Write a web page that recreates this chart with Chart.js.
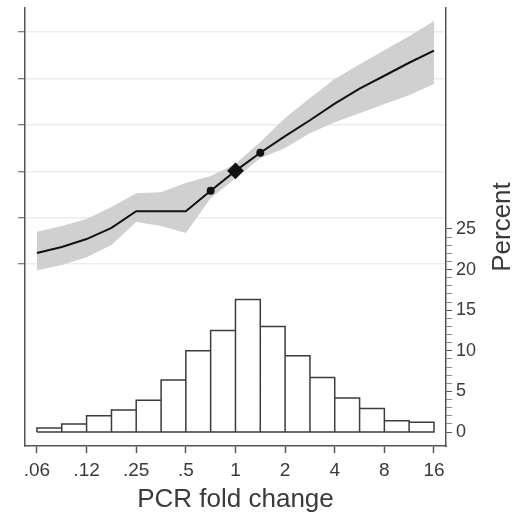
<!DOCTYPE html>
<html>
<head>
<meta charset="utf-8">
<script src="https://cdn.jsdelivr.net/npm/chart.js@4"></script>
<style>
  body { margin: 0; background: #fff; }
</style>
</head>
<body>
<canvas id="chart" width="518" height="516"></canvas>
<script>
// fold-change positions of the fitted curve
const foldPoints = [0.0625, 0.0884, 0.125, 0.177, 0.25, 0.354, 0.5, 0.707, 1, 1.414, 2, 2.83, 4, 5.66, 8, 11.3, 16];
const fitLine = [1.24, 1.37, 1.54, 1.78, 2.14, 2.14, 2.14, 2.58, 3.01, 3.40, 3.76, 4.10, 4.46, 4.78, 5.06, 5.34, 5.60];
const ciUpper = [1.70, 1.82, 1.97, 2.23, 2.53, 2.55, 2.75, 2.90, 3.16, 3.63, 4.15, 4.58, 4.99, 5.31, 5.61, 5.91, 6.24];
const ciLower = [0.87, 0.98, 1.15, 1.41, 1.91, 1.82, 1.67, 2.42, 2.85, 3.28, 3.50, 3.82, 4.06, 4.25, 4.45, 4.64, 4.88];
const markerFolds = [0.707, 1, 1.414];

// histogram
const binEdges = [0.0625, 0.0884, 0.125, 0.177, 0.25, 0.354, 0.5, 0.707, 1, 1.414, 2, 2.83, 4, 5.66, 8, 11.3, 16];
const percent = [0.5, 1.0, 2.0, 2.7, 3.9, 6.4, 10.0, 12.5, 16.3, 13.0, 9.4, 6.7, 4.2, 2.9, 1.4, 1.2];

// axes
const xTicks = [0.0625, 0.125, 0.25, 0.5, 1, 2, 4, 8, 16];
const xTickLabels = [".06", ".12", ".25", ".5", "1", "2", "4", "8", "16"];
const leftTicks = [1, 2, 3, 4, 5, 6];
const percentLabels = [0, 5, 10, 15, 20, 25];

const FONT = "'Liberation Sans', Arial, Helvetica, sans-serif";
const TEXT = "#3a3a3a";
const AXIS = "#555";

// histogram outline path built from edges + heights
const histPath = [{ x: binEdges[0], y: 0 }];
percent.forEach((p, i) => {
  histPath.push({ x: binEdges[i], y: p });
  histPath.push({ x: binEdges[i + 1], y: p });
  histPath.push({ x: binEdges[i + 1], y: 0 });
});
histPath.push({ x: binEdges[0], y: 0 });

const pts = arr => foldPoints.map((f, i) => ({ x: f, y: arr[i] }));

const percentTitle = {
  id: "percentTitle",
  afterDraw(chart) {
    const c = chart.ctx, a = chart.chartArea;
    c.save();
    c.translate(503, (a.top + a.bottom) / 2);
    c.rotate(-Math.PI / 2);
    c.font = "26px " + FONT;
    c.fillStyle = TEXT;
    c.textAlign = "center";
    c.textBaseline = "middle";
    c.fillText("Percent", 0, 0);
    c.restore();
  }
};

const ctx = document.getElementById("chart").getContext("2d");
const chart = new Chart(ctx, {
  type: "line",
  data: {
    datasets: [
      {
        label: "lower",
        data: pts(ciLower),
        yAxisID: "yL",
        borderWidth: 0,
        pointRadius: 0,
        fill: false,
        order: 2,
      },
      {
        label: "upper",
        data: pts(ciUpper),
        yAxisID: "yL",
        borderWidth: 0,
        pointRadius: 0,
        fill: "-1",
        backgroundColor: "#d0d0d0",
        order: 2,
      },
      {
        label: "fit",
        data: pts(fitLine),
        yAxisID: "yL",
        borderColor: "#111",
        borderWidth: 2,
        backgroundColor: "#111",
        pointBorderColor: "#111",
        pointRadius: c => {
          const f = foldPoints[c.dataIndex];
          if (f === 1) return 7;
          return markerFolds.includes(f) ? 3 : 0;
        },
        pointStyle: c => (foldPoints[c.dataIndex] === 1 ? "rectRot" : "circle"),
        fill: false,
        order: 0,
      },
      {
        label: "hist",
        data: histPath,
        yAxisID: "yR",
        borderColor: "#3c3c3c",
        borderWidth: 1.5,
        pointRadius: 0,
        fill: false,
        order: 3,
      },
    ],
  },
  options: {
    responsive: false,
    animation: false,
    events: [],
    layout: { padding: { top: 8, left: 0, right: 0, bottom: 0 } },
    plugins: { legend: { display: false }, tooltip: { enabled: false } },
    scales: {
      x: {
        type: "logarithmic",
        position: "bottom",
        min: 0.0529,
        max: 18.92,
        bounds: "data",
        afterBuildTicks: s => { s.ticks = xTicks.map(v => ({ value: v })); },
        afterFit: s => { s.height = 70; s.paddingLeft = 0; s.paddingRight = 0; },
        ticks: {
          autoSkip: false,
          maxRotation: 0,
          padding: 6,
          color: TEXT,
          font: { family: FONT, size: 19 },
          callback: (v, i) => xTickLabels[i],
        },
        grid: { drawOnChartArea: false, tickLength: 7, tickColor: AXIS, tickWidth: 1.5 },
        border: { display: true, color: AXIS, width: 1.5 },
        title: {
          display: true,
          text: "PCR fold change",
          color: TEXT,
          font: { family: FONT, size: 26 },
          padding: { top: 0, bottom: 1 },
        },
      },
      yL: {
        type: "linear",
        position: "left",
        min: -2.92,
        max: 6.52,
        afterBuildTicks: s => { s.ticks = leftTicks.map(v => ({ value: v })); },
        afterFit: s => { s.width = 25; s.paddingTop = 0; s.paddingBottom = 0; },
        ticks: { display: false },
        grid: { color: "#ececec", lineWidth: 1.5, tickLength: 7, tickColor: AXIS, tickWidth: 1 },
        border: { display: true, color: AXIS, width: 1.5 },
      },
      yR: {
        type: "linear",
        position: "right",
        min: -1.72,
        max: 52.2,
        afterBuildTicks: s => {
          const t = [];
          for (let v = 0; v <= 25; v++) t.push({ value: v });
          s.ticks = t;
        },
        afterFit: s => { s.width = 72; s.paddingTop = 0; s.paddingBottom = 0; },
        ticks: {
          autoSkip: false,
          padding: 4,
          color: TEXT,
          font: { family: FONT, size: 18 },
          callback: v => (percentLabels.includes(v) ? String(v) : ""),
        },
        grid: {
          drawOnChartArea: false,
          tickLength: 6,
          tickColor: c => (percentLabels.includes(c.tick.value) ? AXIS : "#888"),
          tickWidth: 1,
        },
        border: { display: true, color: AXIS, width: 1.5 },
      },
    },
  },
  plugins: [percentTitle],
});
</script>
</body>
</html>
